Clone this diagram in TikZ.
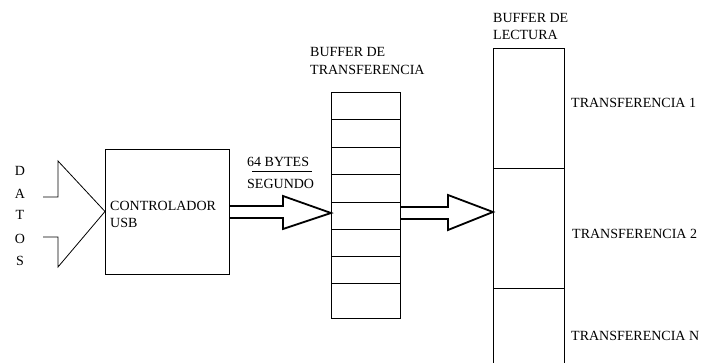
\documentclass[tikz,border=0pt]{standalone}
\usepackage{fontspec}
\setmainfont{Liberation Serif}
\usetikzlibrary{calc}
\begin{document}
\begin{tikzpicture}[x=1pt,y=-1pt,
  cell/.style={draw, line width=0.8pt, inner sep=0pt, outer sep=0pt, anchor=north west},
  lbl/.style={font=\fontsize{14}{17}\selectfont, inner sep=0pt, anchor=base west},
  letter/.style={font=\fontsize{14}{17}\selectfont, inner sep=0pt, anchor=base},
  hollow/.style={draw, line width=0.8pt, line join=miter},
  blockarrow/.style={draw, line width=1.8pt, line join=miter}]
\useasboundingbox (0,0) rectangle (704,363);

% USB controller
\node[cell, minimum width=124pt, minimum height=125pt] (ctrl) at (105,149) {};
\node[lbl] (ctrltxt1) at (110,211) {CONTROLADOR};
\node[lbl] (ctrltxt2) at (110,228) {USB};

% vertical DATOS label
\foreach \ch/\y [count=\k] in {D/176,A/199,T/220,O/244,S/266}
  \node[letter] (dat\k) at (20,\y) {\ch};

% hollow input arrow into the controller
\coordinate (inU) at (43,197);
\coordinate (inL) at (43,237);
\draw[hollow] (inU) -- (58,197) -- (58,161) -- (ctrl.west) -- (58,267) -- (58,237) -- (inL);

% transfer buffer: a column of cells
\foreach \i/\t/\b in {1/92/119,2/119/147,3/147/174,4/174/202,5/202/229,6/229/256,7/256/283,8/283/318}
  \node[cell, minimum width=69pt, minimum height={(\b-\t)*1pt}] (tb\i) at (331,\t) {};
\node[lbl] (tbtxt1) at (310,57) {BUFFER DE};
\node[lbl] (tbtxt2) at (310,75) {TRANSFERENCIA};

% read buffer: three tall cells
\node[cell, minimum width=71pt, minimum height=120pt] (rb1) at (493,48) {};
\node[cell, minimum width=71pt, minimum height=120pt] (rb2) at (493,168) {};
\node[cell, minimum width=71pt, minimum height=80pt] (rb3) at (493,288) {};
\node[lbl] (rbtxt1) at (493,23) {BUFFER DE};
\node[lbl] (rbtxt2) at (493,40) {LECTURA};
\node[lbl] (tr1) at (571,108) {TRANSFERENCIA 1};
\node[lbl] (tr2) at (572,239) {TRANSFERENCIA 2};
\node[lbl] (trn) at (571,341) {TRANSFERENCIA N};

% block arrow: controller -> transfer buffer
\draw[blockarrow] (ctrl.east |- 0,206) -- (283,206) -- (283,196)
  -- (tb5.west |- 0,213) -- (283,229) -- (283,218) -- (ctrl.east |- 0,218);
\node[lbl] (rate1) at (247,167) {64 BYTES};
\node[lbl] (rate2) at (247,189) {SEGUNDO};
\draw[line width=0.8pt] (rate1.south west |- 0,171) ++(5,0) coordinate (fracL) -- (312,171) coordinate (fracR);

% block arrow: transfer buffer -> read buffer
\draw[blockarrow] (tb5.east |- 0,207) -- (448,207) -- (448,195)
  -- (rb2.west |- 0,212) -- (448,230) -- (448,219) -- (tb5.east |- 0,219);
\end{tikzpicture}
\end{document}
